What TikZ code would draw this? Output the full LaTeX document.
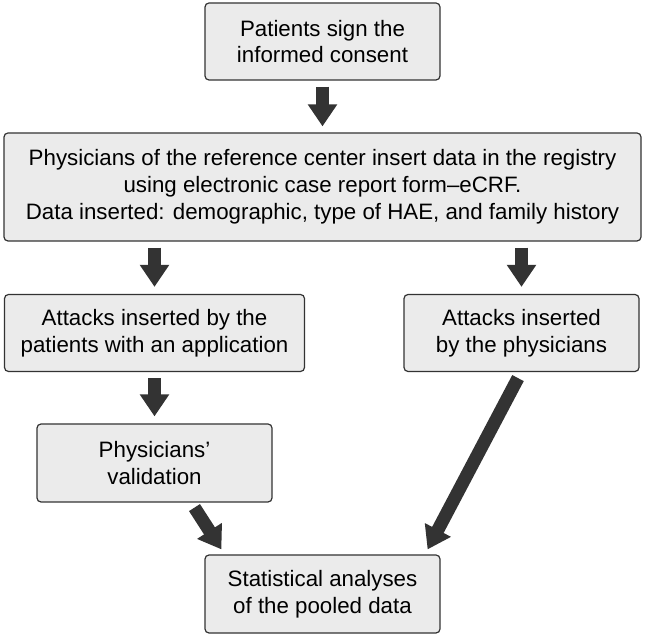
\documentclass[tikz,border=0pt]{standalone}
\usepackage{fontspec}
\setmainfont{Liberation Sans}
\usetikzlibrary{arrows.meta}

\definecolor{boxfill}{HTML}{EBEBEB}
\definecolor{boxline}{HTML}{333333}
\definecolor{arrowgray}{HTML}{333333}

\begin{document}
\begin{tikzpicture}[x=1pt,y=1pt,
  stepbox/.style={draw=boxline,fill=boxfill,line width=1.2pt,rounded corners=4pt,
    align=center,inner sep=0pt,font=\fontsize{22.3}{26.8}\selectfont},
  blockarrow/.style={draw=arrowgray,line width=13pt,
    -{Triangle[length=22pt,width=28pt]}}]

% Page frame
\useasboundingbox (0,0) rectangle (645,637);

% Boxes
\node[stepbox,minimum width=235,minimum height=77] (consent) at (322.5,595.5)
  {Patients sign the\\informed consent};
\node[stepbox,minimum width=637,minimum height=108] (registry) at (322.5,450)
  {Physicians of the reference center insert data in the registry\\
   using electronic case report form--eCRF.\\
   Data inserted: demographic, type of HAE, and family history};
\node[stepbox,minimum width=300,minimum height=77] (apppat) at (154.5,304)
  {Attacks inserted by the\\patients with an application};
\node[stepbox,minimum width=235,minimum height=77] (appdoc) at (521.5,304)
  {Attacks inserted\\by the physicians};
\node[stepbox,minimum width=235,minimum height=78] (valid) at (154.5,174)
  {Physicians'\\validation};
\node[stepbox,minimum width=235,minimum height=78] (stats) at (322.5,43)
  {Statistical analyses\\of the pooled data};

% Arrows
\draw[blockarrow,shorten <=6pt,shorten >=6pt] (consent) -- (registry);
\draw[blockarrow,shorten <=6pt,shorten >=7pt] (apppat.north |- registry.south) -- (apppat.north);
\draw[blockarrow,shorten <=6pt,shorten >=7pt] (appdoc.north |- registry.south) -- (appdoc.north);
\draw[blockarrow,shorten <=6pt,shorten >=7pt] (apppat) -- (valid);
\draw[blockarrow] ([xshift=40pt,yshift=-5pt]valid.south) -- ([xshift=17pt,yshift=5pt]stats.north west);
\draw[blockarrow] ([xshift=-3.5pt,yshift=-6pt]appdoc.south) -- ([xshift=-13pt,yshift=5pt]stats.north east);

\end{tikzpicture}
\end{document}
